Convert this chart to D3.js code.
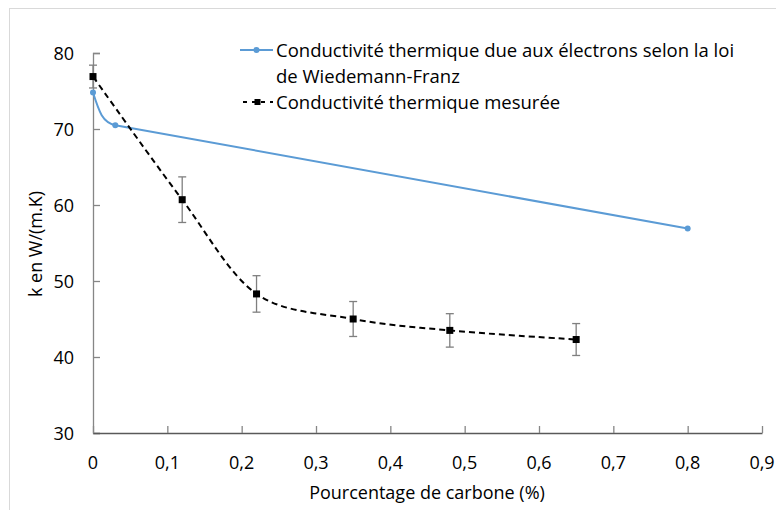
<!DOCTYPE html>
<html><head><meta charset="utf-8">
<script src="https://cdn.jsdelivr.net/npm/d3@7"></script>
<style>body{margin:0;background:#fff}svg{display:block}text{font-family:"Open Sans",sans-serif}</style>
</head><body>
<svg id="c" width="776" height="510"></svg>
<script>
const xTicks = [0,0.1,0.2,0.3,0.4,0.5,0.6,0.7,0.8,0.9];
const yTicks = [30,40,50,60,70,80];
const seriesNames = ["Conductivité thermique due aux électrons selon la loi", "de Wiedemann-Franz", "Conductivité thermique mesurée"];
const wfX = [0, 0.03, 0.8];
const wfY = [74.8, 70.5, 56.9];
const mesX = [0, 0.12, 0.22, 0.35, 0.48, 0.65];
const mesY = [76.9, 60.7, 48.3, 45.0, 43.5, 42.3];
const mesErr = [1.5, 3.0, 2.4, 2.3, 2.2, 2.1];
const xTitle = "Pourcentage de carbone (%)";
const yTitle = "k en W/(m.K)";

const svg = d3.select("#c");
const x = d3.scaleLinear().domain([0,0.9]).range([93,762]);
const y = d3.scaleLinear().domain([30,80]).range([433,53]);
const fmt = d => d===0 ? "0" : String(d).replace(".", ",");

// Excel-like smoothed path through pixel points
function smoothPath(pts){
  const n = pts.length, p = d3.path();
  const L = i => Math.hypot(pts[i+1][0]-pts[i][0], pts[i+1][1]-pts[i][1]);
  const tan = [];
  for(let i=0;i<n;i++){
    if(i===0||i===n-1){tan.push(null);continue;}
    const dx = pts[i+1][0]-pts[i-1][0], dy = pts[i+1][1]-pts[i-1][1], m = Math.hypot(dx,dy);
    const d = Math.min(L(i-1), L(i))/3;
    tan.push([dx/m*d, dy/m*d]);
  }
  p.moveTo(pts[0][0], pts[0][1]);
  for(let i=0;i<n-1;i++){
    const a = pts[i], b = pts[i+1];
    let c1, c2;
    c2 = tan[i+1] ? [b[0]-tan[i+1][0], b[1]-tan[i+1][1]] : null;
    c1 = tan[i] ? [a[0]+tan[i][0], a[1]+tan[i][1]] : null;
    if(!c1){ const t = c2 || b; c1 = [a[0]+(t[0]-a[0])*2/3, a[1]+(t[1]-a[1])*2/3]; }
    if(!c2){ c2 = [b[0]+(c1[0]-b[0])*2/3, b[1]+(c1[1]-b[1])*2/3]; }
    p.bezierCurveTo(c1[0],c1[1],c2[0],c2[1],b[0],b[1]);
  }
  return p.toString();
}

// chart border
svg.append("rect").attr("x",9.5).attr("y",8.5).attr("width",776).attr("height",520)
  .attr("fill","none").attr("stroke","#d9d9d9");

// y axis
const ya = svg.append("g").attr("transform","translate(93,0)")
  .call(d3.axisRight(y).tickValues(yTicks).tickSize(7).tickFormat(""));
ya.select(".domain").attr("stroke","#868686").attr("stroke-width",1.3);
ya.selectAll(".tick line").attr("stroke","#868686").attr("stroke-width",1.3);
svg.append("g").selectAll("text").data(yTicks).join("text")
  .attr("x",74).attr("y",d=>y(d)+6.5).attr("text-anchor","end")
  .attr("font-size",18).attr("fill","#000").text(d=>d);

// x axis
const xa = svg.append("g").attr("transform","translate(0,433)")
  .call(d3.axisTop(x).tickValues(xTicks).tickSize(7).tickSizeOuter(0).tickFormat(""));
xa.select(".domain").attr("stroke","#595959").attr("stroke-width",1.3);
xa.selectAll(".tick line").attr("stroke","#868686").attr("stroke-width",1.3);
svg.append("g").selectAll("text").data(xTicks).join("text")
  .attr("x",d=>x(d)).attr("y",468.5).attr("text-anchor","middle")
  .attr("font-size",18).attr("fill","#000").text(fmt);

svg.append("text").attr("x",427).attr("y",498.5).attr("text-anchor","middle")
  .attr("font-size",18).attr("fill","#000").text(xTitle);
svg.append("text").attr("transform","translate(42,244) rotate(-90)").attr("text-anchor","middle")
  .attr("font-size",18).attr("fill","#000").text(yTitle);

// blue series
const blue = "#5B9BD5";
const wf = wfX.map((v,i)=>[v,wfY[i]]);
svg.append("path").attr("d", smoothPath(wf.map(d=>[x(d[0]),y(d[1])])))
  .attr("fill","none").attr("stroke",blue).attr("stroke-width",2);
svg.append("g").selectAll("circle").data(wf).join("circle")
  .attr("cx",d=>x(d[0])).attr("cy",d=>y(d[1])).attr("r",3).attr("fill",blue);

// measured series
const mes = mesX.map((v,i)=>[v,mesY[i],mesErr[i]]);
const eb = svg.append("g").attr("stroke","#7f7f7f").attr("stroke-width",1.3);
mes.forEach(d=>{
  const cx = x(d[0]);
  eb.append("line").attr("x1",cx).attr("x2",cx).attr("y1",y(d[1]+d[2])).attr("y2",y(d[1]-d[2]));
  eb.append("line").attr("x1",cx-4).attr("x2",cx+4).attr("y1",y(d[1]+d[2])).attr("y2",y(d[1]+d[2]));
  eb.append("line").attr("x1",cx-4).attr("x2",cx+4).attr("y1",y(d[1]-d[2])).attr("y2",y(d[1]-d[2]));
});
svg.append("path").attr("d", smoothPath(mes.map(d=>[x(d[0]),y(d[1])])))
  .attr("fill","none").attr("stroke","#000").attr("stroke-width",2).attr("stroke-dasharray","6,4");
svg.append("g").selectAll("rect").data(mes).join("rect")
  .attr("x",d=>x(d[0])-3.5).attr("y",d=>y(d[1])-3.5).attr("width",7).attr("height",7).attr("fill","#000");

// legend
const lg = svg.append("g");
lg.append("line").attr("x1",240).attr("x2",273).attr("y1",50).attr("y2",50).attr("stroke",blue).attr("stroke-width",2);
lg.append("circle").attr("cx",256.5).attr("cy",50).attr("r",3).attr("fill",blue);
lg.append("line").attr("x1",243).attr("x2",273).attr("y1",102).attr("y2",102).attr("stroke","#000").attr("stroke-width",2).attr("stroke-dasharray","4,5");
lg.append("rect").attr("x",254.5).attr("y",99).attr("width",6).attr("height",6).attr("fill","#000");
lg.selectAll("text").data(seriesNames).join("text")
  .attr("x",276).attr("y",(d,i)=>[56.5,82.5,108.5][i]).attr("font-size",18.5).attr("fill","#000").text(d=>d);
</script>
</body></html>
